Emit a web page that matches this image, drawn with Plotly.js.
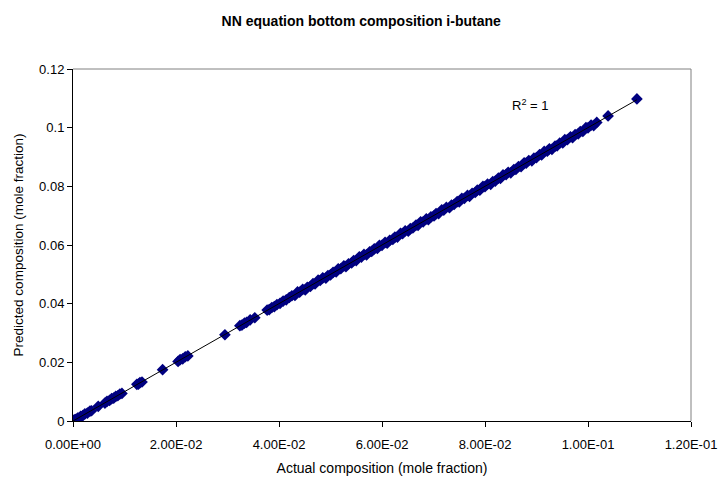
<!DOCTYPE html>
<html>
<head>
<meta charset="utf-8">
<script src="https://cdn.plot.ly/plotly-3.0.1.min.js"></script>
<style>
  html, body { margin: 0; padding: 0; background: #fff; }
  #chart { width: 721px; height: 488px; }
</style>
</head>
<body>
<div id="chart"></div>
<script>
// Actual vs. predicted bottom composition of i-butane (mole fraction)
const actual = [
  0.0000, 0.0002, 0.0004, 0.0006, 0.0009, 0.0012, 0.0015, 0.0019, 0.0023, 0.0028,
  0.0033, 0.0036, 0.0049, 0.0062, 0.0066, 0.0071, 0.0075, 0.0079, 0.0083, 0.0087,
  0.0091, 0.0095, 0.0124, 0.0127, 0.0130, 0.0134, 0.0174, 0.0204, 0.0208, 0.0213,
  0.0218, 0.0223, 0.0295, 0.0324, 0.0328, 0.0333, 0.0337, 0.0344, 0.0353, 0.0377,
  0.0381, 0.0386, 0.0391, 0.0396, 0.0402, 0.0408, 0.0414, 0.0420,
  0.0425, 0.0431, 0.0436, 0.0440, 0.0446, 0.0451, 0.0455, 0.0461, 0.0466, 0.0470,
  0.0476, 0.0480, 0.0485, 0.0491, 0.0495, 0.0500, 0.0505, 0.0511, 0.0515, 0.0520,
  0.0526, 0.0530, 0.0535, 0.0541, 0.0545, 0.0550, 0.0556, 0.0560, 0.0565, 0.0570,
  0.0576, 0.0580, 0.0585, 0.0591, 0.0595, 0.0600, 0.0606, 0.0610, 0.0615, 0.0621,
  0.0625, 0.0630, 0.0636, 0.0640, 0.0645, 0.0651, 0.0655, 0.0660, 0.0666, 0.0670,
  0.0675, 0.0680, 0.0686, 0.0690, 0.0695, 0.0701, 0.0705, 0.0710, 0.0716, 0.0720,
  0.0725, 0.0731, 0.0735, 0.0740, 0.0746, 0.0750, 0.0755, 0.0760, 0.0766, 0.0770,
  0.0775, 0.0781, 0.0785, 0.0790, 0.0796, 0.0800, 0.0805, 0.0811, 0.0815, 0.0820,
  0.0826, 0.0830, 0.0835, 0.0841, 0.0845, 0.0850, 0.0856, 0.0860, 0.0865, 0.0870,
  0.0876, 0.0880, 0.0885, 0.0891, 0.0895, 0.0900, 0.0906, 0.0910, 0.0915, 0.0921,
  0.0925, 0.0930, 0.0936, 0.0940, 0.0945, 0.0951, 0.0955, 0.0960, 0.0966, 0.0970,
  0.0975, 0.0981, 0.0985, 0.0990, 0.0996, 0.1000, 0.1006, 0.1011, 0.1017, 0.1039,
  0.1095
];
const predicted = [
  0.0001, 0.0003, 0.0005, 0.0006, 0.0010, 0.0011, 0.0016, 0.0018, 0.0024, 0.0027,
  0.0034, 0.0035, 0.0050, 0.0061, 0.0067, 0.0070, 0.0076, 0.0078, 0.0084, 0.0086,
  0.0092, 0.0094, 0.0125, 0.0126, 0.0131, 0.0133, 0.0175, 0.0203, 0.0209, 0.0212,
  0.0219, 0.0222, 0.0294, 0.0325, 0.0327, 0.0334, 0.0336, 0.0345, 0.0352, 0.0378,
  0.0380, 0.0387, 0.0390, 0.0397, 0.0401, 0.0409, 0.0413, 0.0421,
  0.0427, 0.0428, 0.0440, 0.0439, 0.0449, 0.0447, 0.0456, 0.0459, 0.0468, 0.0467,
  0.0480, 0.0479, 0.0488, 0.0487, 0.0496, 0.0498, 0.0507, 0.0508, 0.0519, 0.0519,
  0.0529, 0.0526, 0.0536, 0.0539, 0.0547, 0.0547, 0.0560, 0.0559, 0.0568, 0.0566,
  0.0577, 0.0578, 0.0587, 0.0588, 0.0599, 0.0599, 0.0609, 0.0606, 0.0616, 0.0619,
  0.0627, 0.0627, 0.0640, 0.0639, 0.0648, 0.0647, 0.0656, 0.0658, 0.0668, 0.0667,
  0.0679, 0.0679, 0.0689, 0.0686, 0.0696, 0.0699, 0.0707, 0.0707, 0.0720, 0.0719,
  0.0728, 0.0727, 0.0736, 0.0738, 0.0748, 0.0747, 0.0759, 0.0759, 0.0769, 0.0766,
  0.0776, 0.0779, 0.0787, 0.0787, 0.0800, 0.0799, 0.0808, 0.0807, 0.0816, 0.0818,
  0.0828, 0.0827, 0.0839, 0.0840, 0.0848, 0.0846, 0.0857, 0.0858, 0.0867, 0.0867,
  0.0880, 0.0879, 0.0888, 0.0887, 0.0896, 0.0898, 0.0908, 0.0907, 0.0919, 0.0920,
  0.0928, 0.0926, 0.0937, 0.0938, 0.0947, 0.0948, 0.0959, 0.0959, 0.0969, 0.0966,
  0.0976, 0.0979, 0.0987, 0.0987, 0.1000, 0.0999, 0.1009, 0.1007, 0.1018, 0.1040,
  0.1098
];

const xTickVals = [0, 0.02, 0.04, 0.06, 0.08, 0.10, 0.12];
const xTickText = ['0.00E+00', '2.00E-02', '4.00E-02', '6.00E-02', '8.00E-02', '1.00E-01', '1.20E-01'];
const yTickVals = [0, 0.02, 0.04, 0.06, 0.08, 0.10, 0.12];
const yTickText = ['0', '0.02', '0.04', '0.06', '0.08', '0.1', '0.12'];

// Least-squares linear trendline over the data range
function linearFit(xs, ys) {
  const n = xs.length;
  let sx = 0, sy = 0, sxx = 0, sxy = 0;
  for (let i = 0; i < n; i++) {
    sx += xs[i]; sy += ys[i]; sxx += xs[i] * xs[i]; sxy += xs[i] * ys[i];
  }
  const slope = (n * sxy - sx * sy) / (n * sxx - sx * sx);
  const intercept = (sy - slope * sx) / n;
  return { slope, intercept };
}
const fit = linearFit(actual, predicted);
const xMin = Math.min(...actual), xMax = Math.max(...actual);
const trendX = [xMin, xMax];
const trendY = trendX.map(v => fit.intercept + fit.slope * v);

const font = 'Arial, "Liberation Sans", sans-serif';

const traces = [
  {
    x: actual, y: predicted,
    type: 'scatter', mode: 'markers',
    marker: { symbol: 'diamond', size: 9, color: '#000080', line: { width: 0 } },
    hoverinfo: 'x+y'
  },
  {
    x: trendX, y: trendY,
    type: 'scatter', mode: 'lines',
    line: { color: '#000000', width: 1 },
    hoverinfo: 'skip'
  }
];

const layout = {
  width: 721, height: 488,
  paper_bgcolor: '#ffffff', plot_bgcolor: '#ffffff',
  showlegend: false,
  margin: { l: 73, r: 30, t: 69, b: 67 },
  font: { family: font, size: 13, color: '#000000' },
  title: {
    text: '<b>NN equation bottom composition i-butane</b>',
    font: { family: font, size: 14, color: '#000000' },
    x: 0.501, xanchor: 'center', y: 0.957, yanchor: 'middle'
  },
  xaxis: {
    range: [0, 0.12],
    tickvals: xTickVals, ticktext: xTickText,
    ticks: 'outside', ticklen: 5, tickcolor: '#000000', tickwidth: 1,
    ticklabelstandoff: 6,
    showline: true, linecolor: '#000000', linewidth: 1,
    showgrid: false, zeroline: false,
    tickfont: { family: font, size: 13, color: '#000000' },
    title: { text: 'Actual composition (mole fraction)', font: { family: font, size: 14, color: '#000000' }, standoff: 12 }
  },
  yaxis: {
    range: [0, 0.12],
    tickvals: yTickVals, ticktext: yTickText,
    ticks: 'outside', ticklen: 5, tickcolor: '#000000', tickwidth: 1,
    showline: true, linecolor: '#000000', linewidth: 1,
    showgrid: false, zeroline: false,
    tickfont: { family: font, size: 13, color: '#000000' },
    title: { text: 'Predicted composition (mole fraction)', font: { family: font, size: 13.5, color: '#000000' }, standoff: 12 }
  },
  shapes: [
    { type: 'line', xref: 'paper', yref: 'paper', x0: 0, x1: 1, y0: 1, y1: 1, line: { color: '#808080', width: 1 } },
    { type: 'line', xref: 'paper', yref: 'paper', x0: 1, x1: 1, y0: 0, y1: 1, line: { color: '#808080', width: 1 } }
  ],
  annotations: [
    {
      x: 0.0888, y: 0.1077, xref: 'x', yref: 'y',
      text: 'R<sup>2</sup> = 1', showarrow: false,
      font: { family: font, size: 13, color: '#000000' }
    }
  ]
};

Plotly.newPlot('chart', traces, layout, { staticPlot: true, displayModeBar: false });
</script>
</body>
</html>
